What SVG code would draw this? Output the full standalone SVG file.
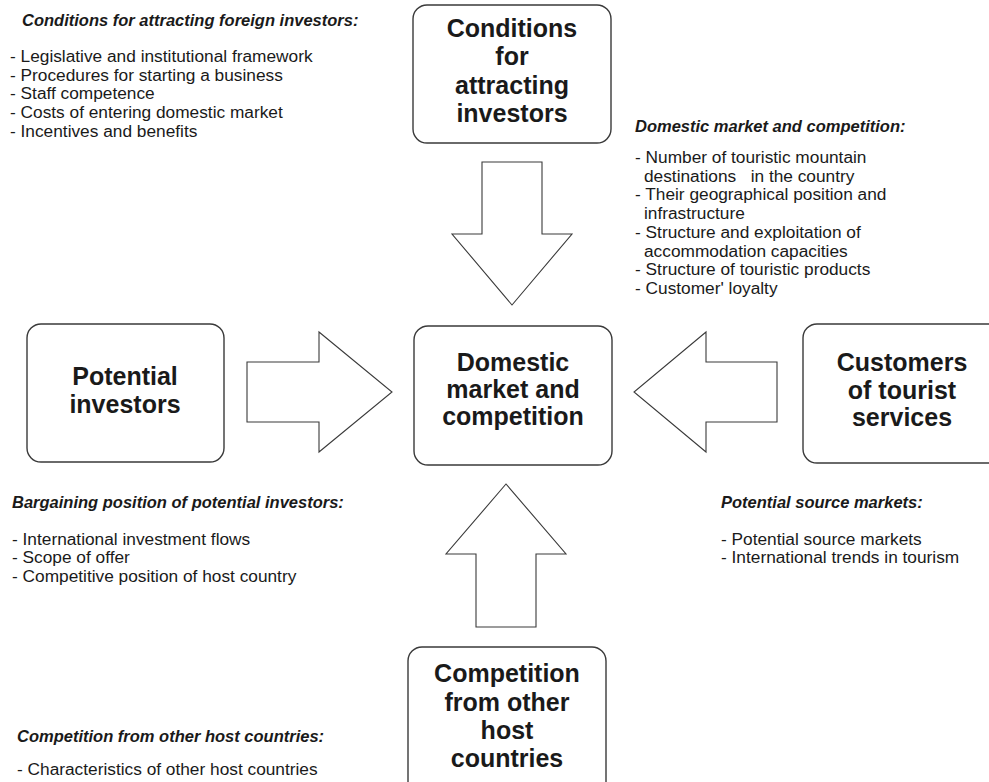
<svg xmlns="http://www.w3.org/2000/svg" width="989" height="782" viewBox="0 0 989 782">
<style>
.box{fill:#fff;stroke:#3a3a3a;stroke-width:1.4}
.arr{fill:#fff;stroke:#3a3a3a;stroke-width:1.1;stroke-linejoin:miter}
.lbl{font-family:"Liberation Sans",Arial,sans-serif;font-weight:bold;font-size:25px;fill:#1a1a1a;text-anchor:middle}
.ttl{font-family:"Liberation Sans",Arial,sans-serif;font-weight:bold;font-style:italic;font-size:16.5px;fill:#1a1a1a}
.itm{font-family:"Liberation Sans",Arial,sans-serif;font-size:17.3px;fill:#1a1a1a}
</style>
<rect width="989" height="782" fill="#fff"/>
<g id="connectors">
<polygon class="arr" points="482,162 542,162 542,234 572,234 512,305 452,234 482,234"/>
<polygon class="arr" points="247,362 319,362 319,332 392,392 319,452 319,422 247,422"/>
<polygon class="arr" points="777,362 706,362 706,332 634,392 706,452 706,422 777,422"/>
<polygon class="arr" points="476,627 476,554 446,554 506,484 566,554 536,554 536,627"/>
</g>
<g id="node-conditions">
<rect class="box" x="413" y="5" width="198" height="138" rx="14"/>
<text class="lbl" x="512" y="37">Conditions</text>
<text class="lbl" x="512" y="65">for</text>
<text class="lbl" x="512" y="94">attracting</text>
<text class="lbl" x="512" y="122">investors</text>
</g>
<g id="node-domestic">
<rect class="box" x="414" y="326" width="198" height="139" rx="14"/>
<text class="lbl" x="513" y="371">Domestic</text>
<text class="lbl" x="513" y="398">market and</text>
<text class="lbl" x="513" y="425">competition</text>
</g>
<g id="node-investors">
<rect class="box" x="27" y="324" width="197" height="138" rx="14"/>
<text class="lbl" x="125" y="385">Potential</text>
<text class="lbl" x="125" y="413">investors</text>
</g>
<g id="node-customers">
<rect class="box" x="803" y="324" width="210" height="139" rx="14"/>
<text class="lbl" x="902" y="371">Customers</text>
<text class="lbl" x="902" y="399">of tourist</text>
<text class="lbl" x="902" y="426">services</text>
</g>
<g id="node-competition">
<rect class="box" x="408" y="647" width="198" height="160" rx="14"/>
<text class="lbl" x="507" y="682">Competition</text>
<text class="lbl" x="507" y="711">from other</text>
<text class="lbl" x="507" y="739">host</text>
<text class="lbl" x="507" y="767">countries</text>
</g>
<g id="notes">
<text class="ttl" x="22" y="26">Conditions for attracting foreign investors:</text>
<text class="itm" x="10" y="62">- Legislative and institutional framework</text>
<text class="itm" x="10" y="80.7">- Procedures for starting a business</text>
<text class="itm" x="10" y="99.4">- Staff competence</text>
<text class="itm" x="10" y="118.1">- Costs of entering domestic market</text>
<text class="itm" x="10" y="136.8">- Incentives and benefits</text>

<text class="ttl" x="635" y="132">Domestic market and competition:</text>
<text class="itm" x="635" y="163">- Number of touristic mountain</text>
<text class="itm" x="644" y="181.7" xml:space="preserve">destinations   in the country</text>
<text class="itm" x="635" y="200.4">- Their geographical position and</text>
<text class="itm" x="644" y="219.1">infrastructure</text>
<text class="itm" x="635" y="237.8">- Structure and exploitation of</text>
<text class="itm" x="644" y="256.5">accommodation capacities</text>
<text class="itm" x="635" y="275.2">- Structure of touristic products</text>
<text class="itm" x="635" y="293.9">- Customer' loyalty</text>

<text class="ttl" x="12" y="508">Bargaining position of potential investors:</text>
<text class="itm" x="12" y="544.5">- International investment flows</text>
<text class="itm" x="12" y="563.2">- Scope of offer</text>
<text class="itm" x="12" y="581.9">- Competitive position of host country</text>

<text class="ttl" x="721" y="508">Potential source markets:</text>
<text class="itm" x="721" y="544.5">- Potential source markets</text>
<text class="itm" x="721" y="563.2">- International trends in tourism</text>

<text class="ttl" x="17" y="742">Competition from other host countries:</text>
<text class="itm" x="17" y="775">- Characteristics of other host countries</text>
</g>
</svg>
